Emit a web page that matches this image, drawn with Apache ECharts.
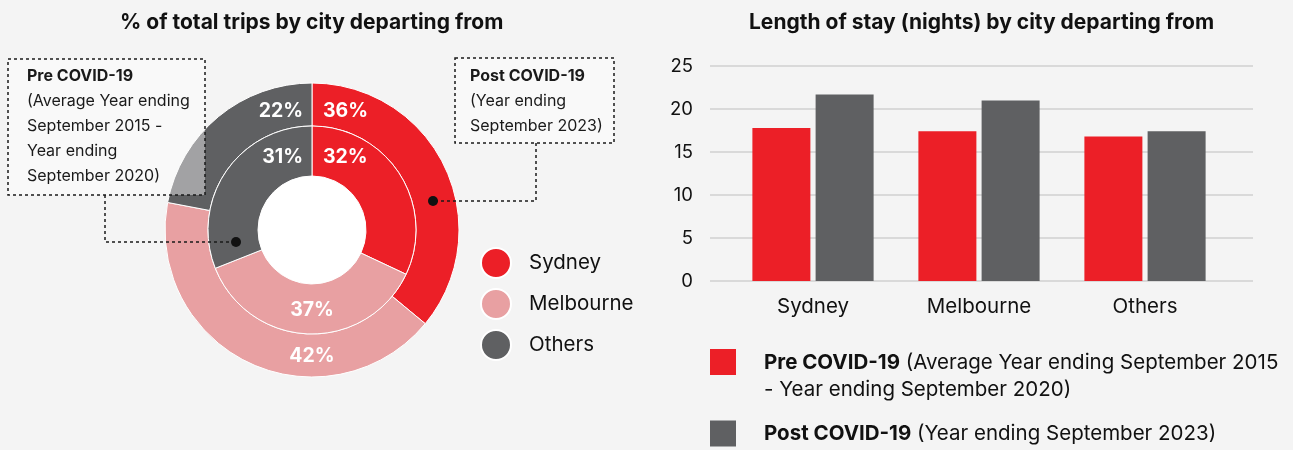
<!DOCTYPE html>
<html lang="en">
<head>
    <meta charset="UTF-8">
    <title>Trips and length of stay by city</title>
    <script src="https://cdn.jsdelivr.net/npm/echarts@6/dist/echarts.min.js"></script>
    <style>
        html, body { margin: 0; padding: 0; background: #f4f4f4; }
        #chartmain { width: 1293px; height: 450px; }
    </style>
</head>
<body>
<div id="chartmain"></div>
<script type="text/javascript">
    // data
    var cities = ['Sydney', 'Melbourne', 'Others'];
    var sharePre = [32, 37, 31];      // inner ring, % of trips
    var sharePost = [36, 42, 22];     // outer ring, % of trips
    var stayPre = [17.8, 17.4, 16.8]; // nights
    var stayPost = [21.7, 21.0, 17.4];
    var seriesNames = ['Pre COVID-19', 'Post COVID-19'];

    var RED = '#ec1f27', PINK = '#e8a0a2', GREY = '#5f6062';
    var cityColors = [RED, PINK, GREY];
    var FONT = 'Inter, "Noto Sans", sans-serif';
    var cx = 312, cy = 230;

    function pieData(values) {
        return cities.map(function (c, i) {
            return {name: c, value: values[i], itemStyle: {color: cityColors[i]}};
        });
    }

    // put labels near the top split and at the bottom, like the original
    function ringLabels(topY, bottomY) {
        return function (p) {
            if (p.dataIndex === 0) return {x: cx + 11, y: topY, align: 'left', verticalAlign: 'middle'};
            if (p.dataIndex === 2) return {x: cx - 9, y: topY, align: 'right', verticalAlign: 'middle'};
            return {x: cx, y: bottomY, align: 'center', verticalAlign: 'middle'};
        };
    }

    var pieLabel = {
        show: true, position: 'inside', formatter: '{c}%',
        color: '#fff', fontFamily: FONT, fontWeight: 'bold', fontSize: 19.5
    };

    var dash = {stroke: '#1a1a1a', lineWidth: 1.5, lineDash: [3, 3], fill: null};
    var noteFont = {fontFamily: FONT, fontSize: 16, fill: '#1a1a1a', lineHeight: 25,
        rich: {b: {fontFamily: FONT, fontSize: 16, fontWeight: 'bold', fill: '#1a1a1a', lineHeight: 25}}};
    var legendText = {fontFamily: FONT, fontSize: 20.5, color: '#111', lineHeight: 27, padding: [0, 0, 0, 23],
        rich: {b: {fontFamily: FONT, fontSize: 20.5, fontWeight: 'bold', color: '#111', lineHeight: 27}}};

    var myChart = echarts.init(document.getElementById('chartmain'));
    var option = {
        backgroundColor: '#f4f4f4',
        animation: false,
        textStyle: {fontFamily: FONT},
        title: [
            {text: '% of total trips by city departing from', left: 115, top: 7,
                textStyle: {fontFamily: FONT, fontSize: 21, fontWeight: 'bold', color: '#111'}},
            {text: 'Length of stay (nights) by city departing from', left: 744, top: 7,
                textStyle: {fontFamily: FONT, fontSize: 21, fontWeight: 'bold', color: '#111'}}
        ],
        legend: [
            {
                data: cities, orient: 'vertical', left: 475, top: 242,
                icon: 'circle', itemWidth: 30, itemHeight: 30, itemGap: 9,
                selectedMode: false,
                textStyle: {fontFamily: FONT, fontSize: 20.5, color: '#111', padding: [0, 0, 0, 13]}
            },
            {
                data: [seriesNames[0]], left: 705, top: 344,
                icon: 'path://M0,0H26V26H0Z M0,54L0.1,54', itemWidth: 26, itemHeight: 54,
                selectedMode: false,
                formatter: '{b|Pre COVID-19} (Average Year ending September 2015\n- Year ending September 2020)',
                textStyle: legendText
            },
            {
                data: [seriesNames[1]], left: 705, top: 415,
                icon: 'rect', itemWidth: 26, itemHeight: 26,
                selectedMode: false,
                formatter: '{b|Post COVID-19} (Year ending September 2023)',
                textStyle: legendText
            }
        ],
        grid: [
            {left: 710, right: 40, top: 66, bottom: 169},  // gridlines + y labels
            {left: 730, right: 65, top: 66, bottom: 169}   // bars
        ],
        xAxis: [
            {type: 'category', gridIndex: 0, data: cities, show: false},
            {
                type: 'category', gridIndex: 1, data: cities,
                axisLine: {show: false}, axisTick: {show: false},
                axisLabel: {fontFamily: FONT, fontSize: 20.5, color: '#111', margin: 15}
            }
        ],
        yAxis: [
            {
                type: 'value', gridIndex: 0, min: 0, max: 25, interval: 5,
                axisLine: {show: false}, axisTick: {show: false},
                axisLabel: {fontFamily: FONT, fontSize: 18.5, color: '#111', margin: 17},
                splitLine: {lineStyle: {color: '#d9d9d9', width: 2}}
            },
            {type: 'value', gridIndex: 1, min: 0, max: 25, interval: 5, show: false, splitLine: {show: false}}
        ],
        series: [
            {
                name: 'share-post', type: 'pie', center: [cx, cy], radius: [104, 147],
                startAngle: 90, clockwise: true, silent: true,
                itemStyle: {borderColor: '#fff', borderWidth: 1},
                label: pieLabel, labelLine: {show: false},
                labelLayout: ringLabels(111, 356),
                data: pieData(sharePost)
            },
            {
                name: 'share-pre', type: 'pie', center: [cx, cy], radius: [54, 104],
                startAngle: 90, clockwise: true, silent: true,
                itemStyle: {borderColor: '#fff', borderWidth: 1},
                label: pieLabel, labelLine: {show: false},
                labelLayout: ringLabels(157, 310),
                data: pieData(sharePre)
            },
            {
                name: seriesNames[0], type: 'bar', xAxisIndex: 1, yAxisIndex: 1,
                barWidth: 58, barGap: '9%', itemStyle: {color: RED},
                data: stayPre
            },
            {
                name: seriesNames[1], type: 'bar', xAxisIndex: 1, yAxisIndex: 1,
                barWidth: 58, barGap: '9%', itemStyle: {color: GREY},
                data: stayPost
            }
        ],
        graphic: [
            {type: 'circle', shape: {cx: cx, cy: cy, r: 54}, style: {fill: '#fff'}, z: 0, silent: true},
            // pre covid note
            {type: 'rect', shape: {x: 8, y: 59, width: 197, height: 136},
                style: {stroke: '#1a1a1a', lineWidth: 1.5, lineDash: [3, 3], fill: 'rgba(255,255,255,0.42)'}, z: 10},
            {type: 'text', x: 27, y: 64, z: 11,
                style: Object.assign({text: '{b|Pre COVID-19}\n(Average Year ending\nSeptember 2015 -\nYear ending\nSeptember 2020)',
                    verticalAlign: 'top'}, noteFont)},
            {type: 'polyline', shape: {points: [[105, 195], [105, 242], [236, 242]]}, style: dash, z: 10},
            {type: 'circle', shape: {cx: 236, cy: 242, r: 5}, style: {fill: '#111'}, z: 11},
            // post covid note
            {type: 'rect', shape: {x: 455, y: 58, width: 159, height: 85},
                style: {stroke: '#1a1a1a', lineWidth: 1.5, lineDash: [3, 3], fill: 'rgba(255,255,255,0.42)'}, z: 10},
            {type: 'text', x: 470, y: 64, z: 11,
                style: Object.assign({text: '{b|Post COVID-19}\n(Year ending\nSeptember 2023)',
                    verticalAlign: 'top'}, noteFont)},
            {type: 'polyline', shape: {points: [[536, 143], [536, 201], [433, 201]]}, style: dash, z: 10},
            {type: 'circle', shape: {cx: 433, cy: 201, r: 5}, style: {fill: '#111'}, z: 11}
        ]
    };
    myChart.setOption(option);
</script>
</body>
</html>
